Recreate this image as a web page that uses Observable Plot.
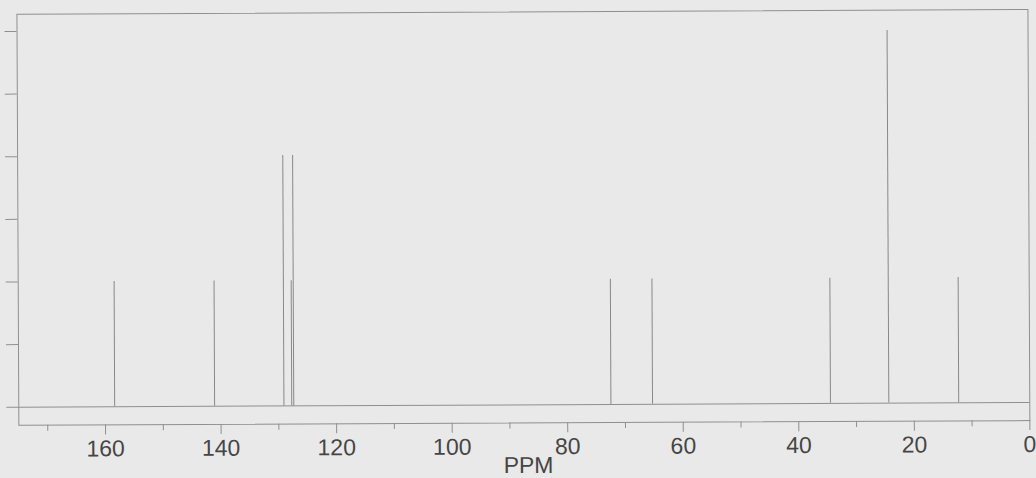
<!DOCTYPE html>
<html><head><meta charset="utf-8">
<script src="https://cdn.jsdelivr.net/npm/d3@7"></script>
<script src="https://cdn.jsdelivr.net/npm/@observablehq/plot@0.6"></script>
<style>
html,body{margin:0;padding:0;background:#e9e9e9;overflow:hidden}
#chart svg{display:block;transform:rotate(-0.27deg);transform-origin:50% 50%}
</style></head><body><div id="chart"></div>
<script>
const peakPpm = [158.4, 141.1, 129.1, 127.75, 127.4, 72.5, 65.3, 34.5, 24.4, 12.3];
const peakIntensity = [2, 2, 4, 2, 4, 2, 2, 2, 5.95, 2];
const majorTicks = [160, 140, 120, 100, 80, 60, 40, 20, 0];
const minorTicks = [170, 150, 130, 110, 90, 70, 50, 30, 10];
const yTicks = [0, 1, 2, 3, 4, 5, 6];
const xLabel = "PPM";

const peaks = peakPpm.map((ppm, i) => ({ppm, intensity: peakIntensity[i]}));
const gridGray = "#8f8f8f";
const textGray = "#454545";

const chart = Plot.plot({
  width: 1036, height: 478,
  marginLeft: 17.5, marginRight: 7.5, marginTop: 11.4, marginBottom: 55.5,
  style: {background: "#e9e9e9", fontFamily: "'Liberation Sans', Arial, sans-serif"},
  x: {domain: [175, 0], axis: null},
  y: {domain: [-0.29, 6.275], axis: null},
  marks: [
    Plot.frame({stroke: gridGray}),
    Plot.axisX(minorTicks, {tickSize: 6, tickFormat: () => "", stroke: gridGray, label: null}),
    Plot.axisX(majorTicks, {tickSize: 10, tickPadding: 5, fontSize: 23, fill: textGray, stroke: gridGray, label: null}),
    Plot.axisY(yTicks, {tickSize: 12, tickFormat: () => "", stroke: gridGray, label: null}),
    Plot.ruleY([0], {stroke: gridGray}),
    Plot.ruleX(peaks, {x: "ppm", y1: 0, y2: "intensity", stroke: "#888888", strokeWidth: 1}),
    Plot.text([xLabel], {frameAnchor: "bottom", lineAnchor: "bottom", dy: 50, dx: 4, fontSize: 23, fill: textGray})
  ]
});
document.getElementById("chart").appendChild(chart);
</script>
</body></html>
